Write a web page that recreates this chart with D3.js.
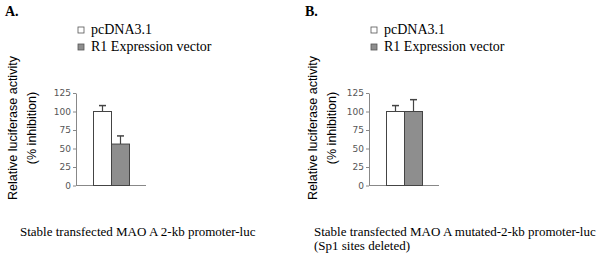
<!DOCTYPE html>
<html>
<head>
<meta charset="utf-8">
<script src="https://cdn.jsdelivr.net/npm/d3@7"></script>
<style>
  body { margin: 0; background: #fff; }
  svg { display: block; }
</style>
</head>
<body>
<svg id="chart" width="600" height="253"></svg>
<script>
// data
const panelLabels = ["A.", "B."];
const groups = ["pcDNA3.1", "R1 Expression vector"];
const valuesA = [100, 56];
const errorsA = [8, 11];
const valuesB = [100, 100];
const errorsB = [8, 16];
const yTicks = [0, 25, 50, 75, 100, 125];
const captionsA = ["Stable transfected MAO A 2-kb promoter-luc"];
const captionsB = ["Stable transfected MAO A mutated-2-kb promoter-luc", "(Sp1 sites deleted)"];
const yTitle = ["Relative luciferase activity", "(% inhibition)"];

const colors = ["#ffffff", "#8e8e8e"];

const svg = d3.select("#chart");

function drawPanel(left, label, values, errors, captions, axisX) {
  const g = svg.append("g").attr("transform", `translate(${left},0)`);

  // panel letter
  g.append("text")
    .attr("x", 5).attr("y", 16)
    .style("font-family", "'Liberation Serif', serif")
    .style("font-weight", "bold")
    .style("font-size", "14px")
    .text(label);

  // legend
  const leg = g.selectAll("g.leg")
    .data(groups)
    .join("g")
    .attr("class", "leg")
    .attr("transform", (d, i) => `translate(${axisX + 2},${27 + i * 17})`);
  leg.append("rect")
    .attr("width", 6).attr("height", 6)
    .attr("fill", (d, i) => colors[i])
    .attr("stroke", "#555").attr("stroke-width", 0.8);
  leg.append("text")
    .attr("x", 13).attr("y", 7)
    .style("font-family", "'Liberation Serif', serif")
    .style("font-size", "14px")
    .text(d => d);

  // y title
  yTitle.forEach((t, i) => {
    g.append("text")
      .attr("transform", `translate(${13 + i * 19},128) rotate(-90)`)
      .attr("text-anchor", "middle")
      .attr("dy", "0.35em")
      .style("font-family", "'Liberation Sans', Arial, sans-serif")
      .style("font-size", "12.5px")
      .text(t);
  });

  const plot = g.append("g").attr("transform", `translate(${axisX},0)`);

  const y = d3.scaleLinear().domain([0, 125]).range([185.5, 93]);
  const x = d3.scaleBand().domain(groups).range([17.5, 53.5]).paddingInner(0);

  // y axis
  const ya = plot.append("g")
    .call(d3.axisLeft(y).tickValues(yTicks).tickSize(3).tickSizeOuter(0).tickPadding(2));
  ya.select(".domain").attr("stroke", "#888");
  ya.selectAll(".tick line").attr("stroke", "#888");
  ya.selectAll(".tick text")
    .attr("fill", "#555")
    .style("font-family", "'DejaVu Sans', sans-serif")
    .style("font-size", "9px");

  // x axis line
  plot.append("line")
    .attr("x1", 0).attr("x2", 70)
    .attr("y1", y(0)).attr("y2", y(0))
    .attr("stroke", "#888");

  const data = groups.map((k, i) => ({ k, v: values[i], e: errors[i], i }));

  // error bars
  plot.selectAll("line.err")
    .data(data)
    .join("line")
    .attr("class", "err")
    .attr("x1", d => x(d.k) + x.bandwidth() / 2)
    .attr("x2", d => x(d.k) + x.bandwidth() / 2)
    .attr("y1", d => y(d.v))
    .attr("y2", d => y(d.v + d.e))
    .attr("stroke", "#444").attr("stroke-width", 1.2);
  plot.selectAll("line.cap")
    .data(data)
    .join("line")
    .attr("class", "cap")
    .attr("x1", d => x(d.k) + x.bandwidth() / 2 - 3.5)
    .attr("x2", d => x(d.k) + x.bandwidth() / 2 + 3.5)
    .attr("y1", d => y(d.v + d.e))
    .attr("y2", d => y(d.v + d.e))
    .attr("stroke", "#444").attr("stroke-width", 1.5);

  // bars
  plot.selectAll("rect.bar")
    .data(data)
    .join("rect")
    .attr("class", "bar")
    .attr("x", d => x(d.k))
    .attr("y", d => y(d.v))
    .attr("width", x.bandwidth())
    .attr("height", d => y(0) - y(d.v))
    .attr("fill", d => colors[d.i])
    .attr("stroke", "#444").attr("stroke-width", 1);

  // captions
  captions.forEach((c, i) => {
    g.append("text")
      .attr("x", 20 - (left ? 6 : 0)).attr("y", 236 + i * 14)
      .style("font-family", "'Liberation Serif', serif")
      .style("font-size", "13px")
      .text(c);
  });
}

drawPanel(0, panelLabels[0], valuesA, errorsA, captionsA, 76);
drawPanel(300, panelLabels[1], valuesB, errorsB, captionsB, 69);
</script>
</body>
</html>
